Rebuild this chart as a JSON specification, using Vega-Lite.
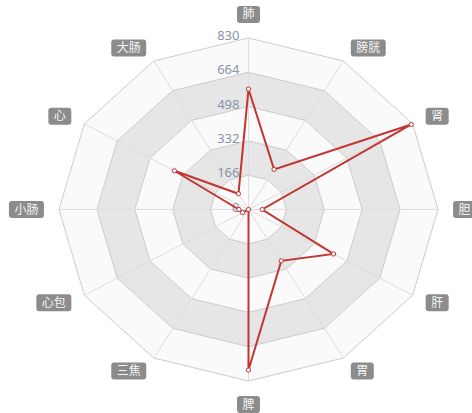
{
  "$schema": "https://vega.github.io/schema/vega-lite/v6.json",
  "width": 379,
  "height": 343,
  "autosize": {"type": "none"},
  "padding": {"left": 59, "top": 38, "right": 34, "bottom": 32},
  "background": "white",
  "config": {"view": {"stroke": null}},
  "datasets": {
    "vals": [
      {"organ": "肺", "i": 0, "v": 583},
      {"organ": "膀胱", "i": 1, "v": 224},
      {"organ": "肾", "i": 2, "v": 823},
      {"organ": "胆", "i": 3, "v": 60},
      {"organ": "肝", "i": 4, "v": 430},
      {"organ": "胃", "i": 5, "v": 287},
      {"organ": "脾", "i": 6, "v": 777},
      {"organ": "三焦", "i": 7, "v": 0},
      {"organ": "心包", "i": 8, "v": 30},
      {"organ": "小肠", "i": 9, "v": 42},
      {"organ": "心", "i": 10, "v": 375},
      {"organ": "大肠", "i": 11, "v": 88}
    ],
    "grid": [
      {"ring": 830, "i": [0,1,2,3,4,5,6,7,8,9,10,11]},
      {"ring": 664, "i": [0,1,2,3,4,5,6,7,8,9,10,11]},
      {"ring": 498, "i": [0,1,2,3,4,5,6,7,8,9,10,11]},
      {"ring": 332, "i": [0,1,2,3,4,5,6,7,8,9,10,11]},
      {"ring": 166, "i": [0,1,2,3,4,5,6,7,8,9,10,11]}
    ],
    "ticks": [
      {"t": 0}, {"t": 166}, {"t": 332}, {"t": 498}, {"t": 664}, {"t": 830}
    ]
  },
  "resolve": {"scale": {"x": "shared", "y": "shared"}},
  "layer": [
    {
      "data": {"name": "grid"},
      "transform": [
        {"flatten": ["i"]},
        {"filter": "datum.ring == 830"},
        {"calculate": "datum.ring * sin(datum.i * PI / 6)", "as": "x"},
        {"calculate": "datum.ring * cos(datum.i * PI / 6)", "as": "y"}
      ],
      "mark": {"type": "line", "interpolate": "linear-closed", "fill": "#fafafa", "stroke": "#cccccc", "strokeWidth": 1},
      "encoding": {
        "x": {"field": "x", "type": "quantitative", "scale": {"domain": [-830, 830], "nice": false, "zero": false}, "axis": null},
        "y": {"field": "y", "type": "quantitative", "scale": {"domain": [-830, 830], "nice": false, "zero": false}, "axis": null},
        "order": {"field": "i", "type": "quantitative"}
      }
    },
    {
      "data": {"name": "grid"},
      "transform": [
        {"flatten": ["i"]},
        {"filter": "datum.ring == 664"},
        {"calculate": "datum.ring * sin(datum.i * PI / 6)", "as": "x"},
        {"calculate": "datum.ring * cos(datum.i * PI / 6)", "as": "y"}
      ],
      "mark": {"type": "line", "interpolate": "linear-closed", "fill": "#e6e6e6", "stroke": "#cccccc", "strokeWidth": 1},
      "encoding": {
        "x": {"field": "x", "type": "quantitative"},
        "y": {"field": "y", "type": "quantitative"},
        "order": {"field": "i", "type": "quantitative"}
      }
    },
    {
      "data": {"name": "grid"},
      "transform": [
        {"flatten": ["i"]},
        {"filter": "datum.ring == 498"},
        {"calculate": "datum.ring * sin(datum.i * PI / 6)", "as": "x"},
        {"calculate": "datum.ring * cos(datum.i * PI / 6)", "as": "y"}
      ],
      "mark": {"type": "line", "interpolate": "linear-closed", "fill": "#fafafa", "stroke": "#cccccc", "strokeWidth": 1},
      "encoding": {
        "x": {"field": "x", "type": "quantitative"},
        "y": {"field": "y", "type": "quantitative"},
        "order": {"field": "i", "type": "quantitative"}
      }
    },
    {
      "data": {"name": "grid"},
      "transform": [
        {"flatten": ["i"]},
        {"filter": "datum.ring == 332"},
        {"calculate": "datum.ring * sin(datum.i * PI / 6)", "as": "x"},
        {"calculate": "datum.ring * cos(datum.i * PI / 6)", "as": "y"}
      ],
      "mark": {"type": "line", "interpolate": "linear-closed", "fill": "#e6e6e6", "stroke": "#cccccc", "strokeWidth": 1},
      "encoding": {
        "x": {"field": "x", "type": "quantitative"},
        "y": {"field": "y", "type": "quantitative"},
        "order": {"field": "i", "type": "quantitative"}
      }
    },
    {
      "data": {"name": "grid"},
      "transform": [
        {"flatten": ["i"]},
        {"filter": "datum.ring == 166"},
        {"calculate": "datum.ring * sin(datum.i * PI / 6)", "as": "x"},
        {"calculate": "datum.ring * cos(datum.i * PI / 6)", "as": "y"}
      ],
      "mark": {"type": "line", "interpolate": "linear-closed", "fill": "#fafafa", "stroke": "#cccccc", "strokeWidth": 1},
      "encoding": {
        "x": {"field": "x", "type": "quantitative"},
        "y": {"field": "y", "type": "quantitative"},
        "order": {"field": "i", "type": "quantitative"}
      }
    },
    {
      "data": {"name": "vals"},
      "transform": [
        {"calculate": "830 * sin(datum.i * PI / 6)", "as": "ex"},
        {"calculate": "830 * cos(datum.i * PI / 6)", "as": "ey"}
      ],
      "mark": {"type": "rule", "color": "#dddddd", "strokeWidth": 1},
      "encoding": {
        "x": {"field": "ex", "type": "quantitative"},
        "y": {"field": "ey", "type": "quantitative"},
        "x2": {"datum": 0},
        "y2": {"datum": 0}
      }
    },
    {
      "data": {"name": "ticks"},
      "mark": {"type": "text", "align": "right", "baseline": "middle", "dx": -9, "dy": -2, "font": "Noto Sans", "fontSize": 13, "color": "#8a93a8"},
      "encoding": {
        "x": {"datum": 0, "type": "quantitative"},
        "y": {"field": "t", "type": "quantitative"},
        "text": {"field": "t", "type": "quantitative"}
      }
    },
    {
      "data": {"name": "vals"},
      "transform": [
        {"calculate": "datum.v * sin(datum.i * PI / 6)", "as": "x"},
        {"calculate": "datum.v * cos(datum.i * PI / 6)", "as": "y"}
      ],
      "mark": {"type": "line", "interpolate": "linear-closed", "stroke": "#c23531", "strokeWidth": 2, "strokeJoin": "miter"},
      "encoding": {
        "x": {"field": "x", "type": "quantitative"},
        "y": {"field": "y", "type": "quantitative"},
        "order": {"field": "i", "type": "quantitative"}
      }
    },
    {
      "data": {"name": "vals"},
      "transform": [
        {"calculate": "datum.v * sin(datum.i * PI / 6)", "as": "x"},
        {"calculate": "datum.v * cos(datum.i * PI / 6)", "as": "y"}
      ],
      "mark": {"type": "point", "shape": "circle", "filled": true, "fill": "white", "stroke": "#c23531", "strokeWidth": 1, "size": 18, "opacity": 1},
      "encoding": {
        "x": {"field": "x", "type": "quantitative"},
        "y": {"field": "y", "type": "quantitative"}
      }
    },
    {
      "data": {"name": "vals"},
      "transform": [
        {"calculate": "sin(datum.i * PI / 6)", "as": "s"},
        {"calculate": "cos(datum.i * PI / 6)", "as": "c"},
        {"calculate": "length(datum.organ)", "as": "n"},
        {"calculate": "datum.n == 1 ? 50.4 : 76.6", "as": "hw"},
        {"calculate": "896 * datum.s + (datum.s > 0.1 ? datum.hw : (datum.s < -0.1 ? -datum.hw : 0))", "as": "lx"},
        {"calculate": "903 * datum.c + (datum.c > 0.9 ? 41 : (datum.c < -0.9 ? -41 : 0))", "as": "ly"}
      ],
      "layer": [
        {
          "mark": {"type": "point", "filled": true, "strokeWidth": 0, "opacity": 1, "color": "#8c8c8c"},
          "encoding": {
            "x": {"field": "lx", "type": "quantitative"},
            "y": {"field": "ly", "type": "quantitative"},
            "shape": {
              "field": "n", "type": "nominal", "legend": null,
              "scale": {"domain": [1, 2], "range": [
                "M-0.74,-0.739H0.74Q1,-0.739 1,-0.48V0.48Q1,0.739 0.74,0.739H-0.74Q-1,0.739 -1,0.48V-0.48Q-1,-0.739 -0.74,-0.739Z",
                "M-0.83,-0.486H0.83Q1,-0.486 1,-0.315V0.315Q1,0.486 0.83,0.486H-0.83Q-1,0.486 -1,0.315V-0.315Q-1,-0.486 -0.83,-0.486Z"
              ]}
            },
            "size": {
              "field": "n", "type": "quantitative", "legend": null,
              "scale": {"domain": [1, 2], "range": [529, 1225], "zero": false}
            }
          }
        },
        {
          "mark": {"type": "text", "align": "center", "baseline": "middle", "font": "Noto Sans CJK SC", "fontSize": 12, "color": "#f5f5f5"},
          "encoding": {
            "x": {"field": "lx", "type": "quantitative"},
            "y": {"field": "ly", "type": "quantitative"},
            "text": {"field": "organ"}
          }
        }
      ]
    }
  ]
}
